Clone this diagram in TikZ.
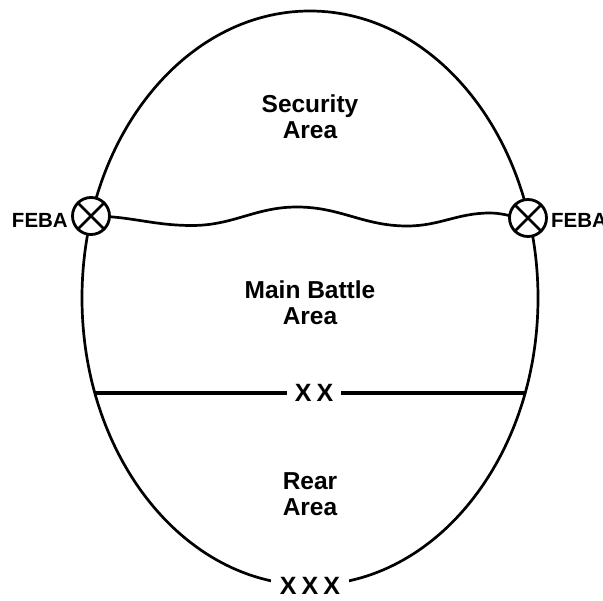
\documentclass[tikz,border=0pt]{standalone}
\usepackage{fontspec}
\setmainfont{Liberation Sans}
\begin{document}
\begin{tikzpicture}[x=1pt,y=-1pt,
  lbl/.style={font=\bfseries\fontsize{24.5}{26}\selectfont, align=center, text=black},
  feba/.style={font=\bfseries\fontsize{20.5}{22}\selectfont, text=black, inner sep=0pt},
  echelon/.style={font=\bfseries\fontsize{25}{27}\selectfont, fill=white, inner sep=4pt, text=black},
  crossmark/.style={circle, draw, line width=2.8pt, fill=white, minimum size=37pt, inner sep=0pt,
    path picture={\draw[line width=2.8pt] (path picture bounding box.north west) -- (path picture bounding box.south east)
      (path picture bounding box.north east) -- (path picture bounding box.south west);}},
  outline/.style={line width=2.7pt},
  boundary/.style={line width=4.5pt}
]
\useasboundingbox (0,0) rectangle (603,601);
% main oval
\draw[outline] (310,298) ellipse [x radius=228pt, y radius=287pt];
% XX boundary line
\coordinate (xxL) at (95,393);
\coordinate (xxR) at (525,393);
\draw[boundary] (xxL) -- (xxR);
\node[echelon, inner xsep=8pt] (xx) at (314,393) {X\kern5pt X};
% XXX at bottom
\node[echelon, inner xsep=9pt, inner ysep=6pt] (xxx) at (310,586) {X\kern5pt X\kern5pt X};
% wavy FEBA trace
\coordinate (wL) at (91,216);
\coordinate (wR) at (528,218);
\draw[outline] (wL) to[out=0,in=180] (192,225.5) to[out=0,in=180] (297,207) to[out=0,in=180] (407,226) to[out=0,in=180] (490,213) to[out=0,in=180] (wR);
% FEBA markers
\node[crossmark] (feL) at (wL) {};
\node[crossmark] (feR) at (wR) {};
\node[feba, anchor=east] (febaL) at (68,220) {FEBA};
\node[feba, anchor=west] (febaR) at (551,220) {FEBA};
% labels
\node[lbl] (sec) at (310,117) {Security\\Area};
\node[lbl] (mba) at (310,303) {Main Battle\\Area};
\node[lbl] (rear) at (310,494) {Rear\\Area};
\end{tikzpicture}
\end{document}
